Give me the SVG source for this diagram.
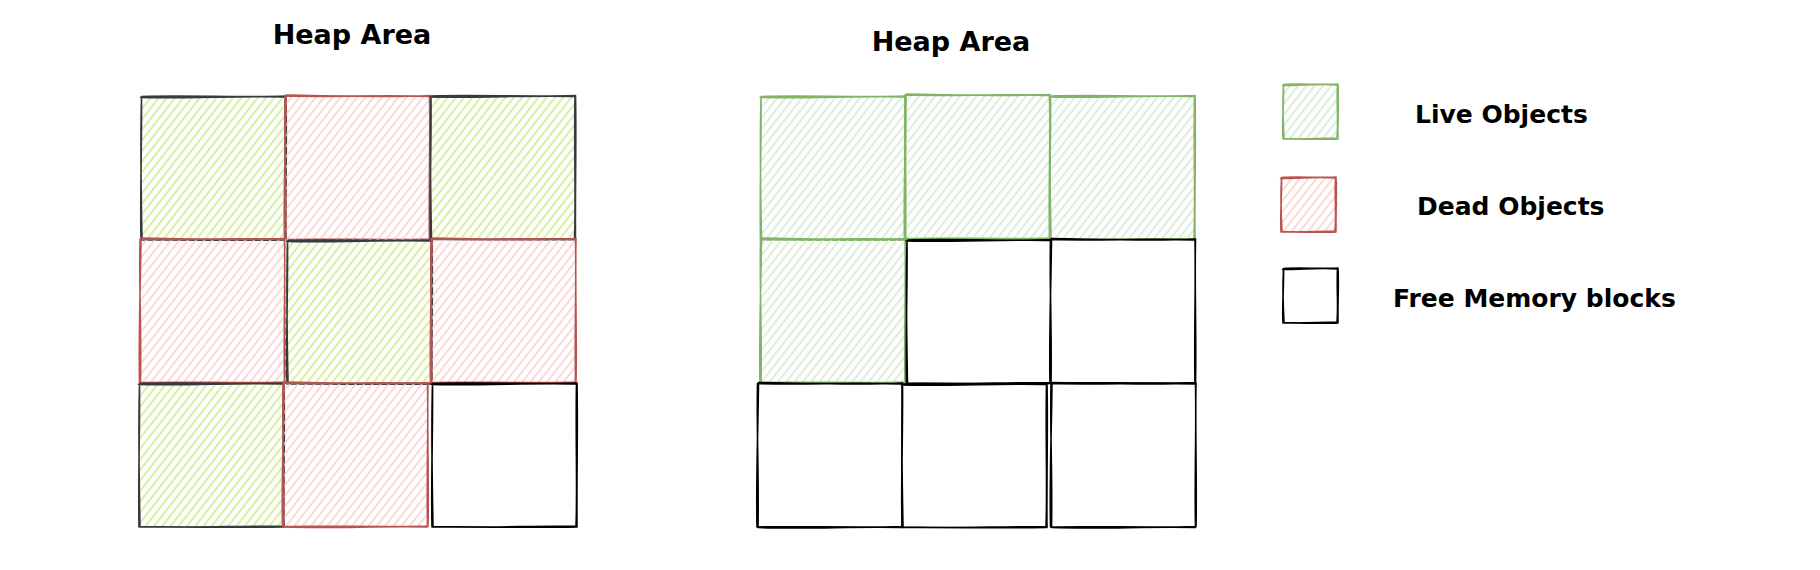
<svg xmlns="http://www.w3.org/2000/svg" xmlns:xlink="http://www.w3.org/1999/xlink" width="1820" height="570" viewBox="0 0 1820 570">
<style>
.t{font-family:"DejaVu Sans","Liberation Sans",sans-serif;font-weight:bold;fill:#000}
.title{font-size:27px;text-anchor:middle}
.leg{font-size:25px}
.o{fill:none;stroke-width:1.6;stroke-linecap:round;stroke-linejoin:round}
.dk{stroke:#36393d}
.bk{stroke:#000}
.rd{stroke:#b85450}
.gr{stroke:#82b366}
</style>
<defs>
<pattern id="hLime" width="6.5" height="6.5" patternUnits="userSpaceOnUse" patternTransform="rotate(38)"><line x1="3.25" y1="0" x2="3.25" y2="6.5" stroke="#cdeb8b" stroke-width="1.6"/></pattern>
<pattern id="hRed" width="6.5" height="6.5" patternUnits="userSpaceOnUse" patternTransform="rotate(38)"><line x1="3.25" y1="0" x2="3.25" y2="6.5" stroke="#f8cecc" stroke-width="1.6"/></pattern>
<pattern id="hGreen" width="6.5" height="6.5" patternUnits="userSpaceOnUse" patternTransform="rotate(38)"><line x1="3.25" y1="0" x2="3.25" y2="6.5" stroke="#d5e8d4" stroke-width="1.6"/></pattern>
<path id="sqA" d="M0.5,0.5 C40,-1 100,1.5 145,0 C146,40 144.5,100 145,144 C100,145 45,143.5 0,144 C-1,100 1,45 0.5,0.5 M-0.5,1.5 C50,2.5 110,-0.5 144.5,1 C143.5,50 145.5,110 144,143 C95,143 40,145 1,143.5 C0,95 -0.5,40 0.5,2"/>
<path id="sqB" d="M0,0 C50,1.5 95,-1.5 144.5,0.5 C145.5,45 143.5,95 144.5,144 C95,143 50,145.5 0.5,144 C1.5,95 -1,50 0,0 M1,-1 C45,-0.5 100,2 145,-0.5 C144,50 146,100 145,143 C100,144.5 45,142.5 -0.5,143.5 C-1.5,100 0.5,45 1,-1"/>
<path id="lg" d="M0.5,0.5 C18,-0.5 38,1 55,0 C56,18 54.5,38 55,55 C38,56 18,54.5 0,55 C-1,38 1,18 0.5,0.5 M-0.5,1.5 C20,1.5 38,-0.5 54.5,1 C53.5,20 55.5,38 54,54 C36,54 18,56 1,54.5 C0,36 -0.5,18 0.5,2"/>
</defs>

<text class="t title" x="352" y="44">Heap Area</text>
<text class="t title" x="951" y="51">Heap Area</text>

<!-- Left heap grid -->
<g id="L11"><rect x="141" y="96" width="144" height="143" fill="url(#hLime)"/><use href="#sqA" x="141" y="96" class="o dk"/></g>
<g id="L12"><rect x="285" y="96" width="145" height="143" fill="url(#hRed)"/><use href="#sqB" x="285" y="96" class="o rd"/></g>
<g id="L13"><rect x="430" y="96" width="146" height="143" fill="url(#hLime)"/><use href="#sqA" x="430.5" y="95.5" class="o dk"/></g>
<g id="L21"><rect x="141" y="239" width="144" height="144" fill="url(#hRed)"/><use href="#sqB" x="140" y="239" class="o rd"/></g>
<g id="L22"><rect x="285" y="239" width="145" height="144" fill="url(#hLime)"/><use href="#sqA" x="287" y="240" class="o dk"/></g>
<g id="L23"><rect x="430" y="239" width="146" height="144" fill="url(#hRed)"/><use href="#sqB" x="431" y="239" class="o rd"/></g>
<g id="L31"><rect x="139" y="383" width="144" height="144" fill="url(#hLime)"/><use href="#sqA" x="139" y="383" class="o dk"/></g>
<g id="L32"><rect x="283" y="383" width="145" height="144" fill="url(#hRed)"/><use href="#sqB" x="283" y="383" class="o rd"/></g>
<g id="L33"><rect x="432" y="383" width="145" height="144" fill="#fff"/><use href="#sqA" x="432" y="383" class="o bk"/></g>

<!-- Right heap grid -->
<g id="R11"><rect x="761" y="96" width="144" height="143" fill="url(#hGreen)"/><use href="#sqA" x="760.5" y="96" class="o gr"/></g>
<g id="R12"><rect x="905" y="96" width="145" height="143" fill="url(#hGreen)"/><use href="#sqB" x="905" y="95" class="o gr"/></g>
<g id="R13"><rect x="1050" y="96" width="145" height="143" fill="url(#hGreen)"/><use href="#sqA" x="1050" y="95.5" class="o gr"/></g>
<g id="R21"><rect x="761" y="239" width="144" height="145" fill="url(#hGreen)"/><use href="#sqB" x="760.5" y="239" class="o gr"/></g>
<g id="R22"><rect x="906" y="239" width="145" height="145" fill="#fff"/><use href="#sqA" x="906.5" y="239.5" class="o bk"/></g>
<g id="R23"><rect x="1051" y="239" width="144" height="145" fill="#fff"/><use href="#sqB" x="1050.5" y="239.5" class="o bk"/></g>
<g id="R31"><rect x="757" y="384" width="145" height="143" fill="#fff"/><use href="#sqB" x="757.5" y="383.5" class="o bk"/></g>
<g id="R32"><rect x="902" y="384" width="145" height="143" fill="#fff"/><use href="#sqA" x="902" y="383.5" class="o bk"/></g>
<g id="R33"><rect x="1051" y="384" width="145" height="143" fill="#fff"/><use href="#sqB" x="1051" y="383.5" class="o bk"/></g>

<!-- Legend -->
<g id="legend-live"><rect x="1283" y="84" width="55" height="55" fill="url(#hGreen)"/><use href="#lg" x="1283" y="84" class="o gr"/><text class="t leg" x="1415" y="123">Live Objects</text></g>
<g id="legend-dead"><rect x="1281" y="177" width="57" height="55" fill="url(#hRed)"/><use href="#lg" x="1281" y="177" class="o rd"/><text class="t leg" x="1417" y="215">Dead Objects</text></g>
<g id="legend-free"><rect x="1283" y="268" width="55" height="55" fill="#fff"/><use href="#lg" x="1283" y="268" class="o bk"/><text class="t leg" x="1393" y="307">Free Memory blocks</text></g>
</svg>
